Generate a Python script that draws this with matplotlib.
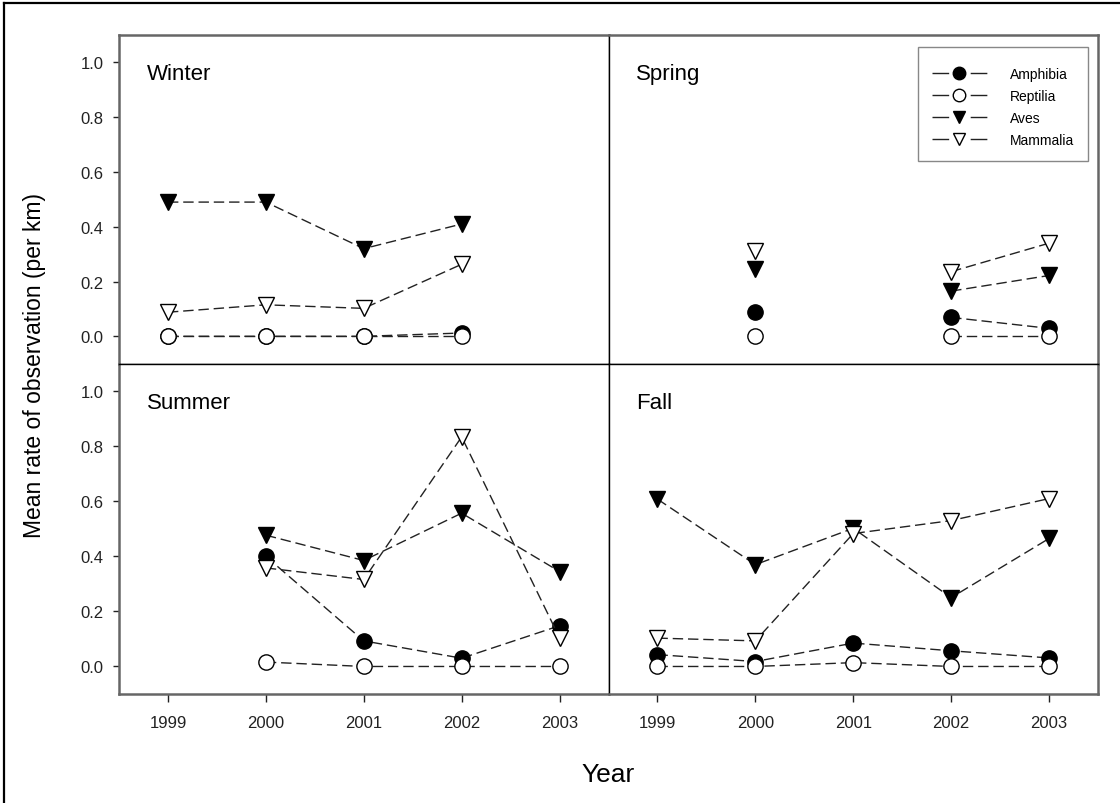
import numpy as np
import matplotlib
matplotlib.use("Agg")
import matplotlib.pyplot as plt
from matplotlib.lines import Line2D
from matplotlib.patches import Rectangle

nan = np.nan

years = [1999, 2000, 2001, 2002, 2003]
y_ticks = [0.0, 0.2, 0.4, 0.6, 0.8, 1.0]
taxa = ["Amphibia", "Reptilia", "Aves", "Mammalia"]
seasons = ["Winter", "Spring", "Summer", "Fall"]

# Mean rate of observation per km, by year
winter_amphibia = [0.0, 0.0, 0.0, 0.012, nan]
winter_reptilia = [0.0, 0.0, 0.0, 0.0, nan]
winter_aves = [0.49, 0.49, 0.32, 0.41, nan]
winter_mammalia = [0.088, 0.115, 0.102, 0.263, nan]

spring_amphibia = [nan, 0.09, nan, 0.069, 0.029]
spring_reptilia = [nan, 0.0, nan, 0.0, 0.0]
spring_aves = [nan, 0.247, nan, 0.165, 0.222]
spring_mammalia = [nan, 0.313, nan, 0.236, 0.34]

summer_amphibia = [nan, 0.4, 0.093, 0.03, 0.148]
summer_reptilia = [nan, 0.016, 0.0, 0.0, 0.0]
summer_aves = [nan, 0.477, 0.385, 0.557, 0.345]
summer_mammalia = [nan, 0.358, 0.316, 0.834, 0.104]

fall_amphibia = [0.043, 0.018, 0.085, 0.057, 0.031]
fall_reptilia = [0.0, 0.0, 0.014, 0.0, 0.0]
fall_aves = [0.608, 0.37, 0.502, 0.25, 0.465]
fall_mammalia = [0.103, 0.093, 0.483, 0.53, 0.61]

data = {
    "Winter": [winter_amphibia, winter_reptilia, winter_aves, winter_mammalia],
    "Spring": [spring_amphibia, spring_reptilia, spring_aves, spring_mammalia],
    "Summer": [summer_amphibia, summer_reptilia, summer_aves, summer_mammalia],
    "Fall": [fall_amphibia, fall_reptilia, fall_aves, fall_mammalia],
}

styles = {
    "Amphibia": dict(marker="o", mfc="black", mec="black"),
    "Reptilia": dict(marker="o", mfc="white", mec="black"),
    "Aves": dict(marker="v", mfc="black", mec="black"),
    "Mammalia": dict(marker="v", mfc="white", mec="black"),
}

plt.rcParams["font.family"] = ["Liberation Sans", "DejaVu Sans"]

W, H = 1120, 804
fig = plt.figure(figsize=(W / 100, H / 100), dpi=100)


def px_axes(x0, y0, x1, y1):
    return fig.add_axes([x0 / W, 1 - y1 / H, (x1 - x0) / W, (y1 - y0) / H])


x_left, x_mid, x_right = 119, 608.5, 1098
y_top, y_mid, y_bot = 36, 364.7, 695

axes = {
    "Winter": px_axes(x_left, y_top, x_mid, y_mid),
    "Spring": px_axes(x_mid, y_top, x_right, y_mid),
    "Summer": px_axes(x_left, y_mid, x_mid, y_bot),
    "Fall": px_axes(x_mid, y_mid, x_right, y_bot),
}

for season in seasons:
    ax = axes[season]
    for name, vals in zip(taxa, data[season]):
        ax.plot(years, vals, color="#222222", lw=1.0, dashes=(7.5, 3.5),
                ms=11, mew=1.0, **styles[name])

    ax.set_xlim(1998.5, 2003.5)
    ax.set_ylim(-0.1, 1.1)
    ax.set_xticks(years)
    ax.set_xticklabels([str(y) for y in years])
    ax.set_yticks(y_ticks)
    ax.set_yticklabels([f"{v:.1f}" for v in y_ticks])
    ax.tick_params(labelsize=12, width=1.0, colors="#222222")
    ax.tick_params(axis="x", length=5.8, pad=9.5)
    ax.tick_params(axis="y", length=4, pad=7)

    top_row = season in ("Winter", "Spring")
    left_col = season in ("Winter", "Summer")
    if top_row:
        ax.tick_params(axis="x", bottom=False, labelbottom=False)
    if not left_col:
        ax.tick_params(axis="y", left=False, labelleft=False)

    # inner dividers thin and black, outer frame grey and heavier
    for side, sp in ax.spines.items():
        outer = ((side == "top" and top_row) or (side == "bottom" and not top_row)
                 or (side == "left" and left_col) or (side == "right" and not left_col))
        if outer:
            sp.set_color("#666666")
            sp.set_linewidth(1.8)
        else:
            sp.set_color("black")
            sp.set_linewidth(1.0)

    ax.text(0.057, 0.882, season, transform=ax.transAxes, fontsize=16,
            ha="left", va="center")

# legend: long dash, marker, long dash
handles = [Line2D([], [], color="#222222", lw=1.0, dashes=(12, 15.5), ms=9,
                  mew=1.0, **styles[name]) for name in taxa]
ax_sp = axes["Spring"]
leg = ax_sp.legend(handles, taxa, loc="upper left",
                   bbox_to_anchor=((931.7 - x_mid) / (x_right - x_mid),
                                   (y_mid - 68.0) / (y_mid - y_top)),
                   borderaxespad=0, borderpad=0, frameon=False,
                   fontsize=10, handlelength=3.96, handletextpad=1.7,
                   labelspacing=0.58)
ax_sp.add_patch(Rectangle(((918 - x_mid) / (x_right - x_mid), (y_mid - 162) / (y_mid - y_top)),
                          170 / (x_right - x_mid), 114 / (y_mid - y_top),
                          transform=ax_sp.transAxes, facecolor="none",
                          edgecolor="#888888", lw=1.0, zorder=5))

fig.text(35 / W, 1 - 365 / H, "Mean rate of observation (per km)", rotation=90,
         fontsize=16.5, ha="center", va="center")
fig.text(608 / W, 1 - 775 / H, "Year", fontsize=19, ha="center", va="center")

# outer frame lines along the top and left edges
fig.add_artist(Line2D([4 / W, 4 / W], [0, 1 - 4 / H], color="black", lw=1.6,
                      transform=fig.transFigure))
fig.add_artist(Line2D([4 / W, 1], [1 - 4 / H, 1 - 4 / H], color="black", lw=1.6,
                      transform=fig.transFigure))

fig.savefig("out.png", dpi=100)
